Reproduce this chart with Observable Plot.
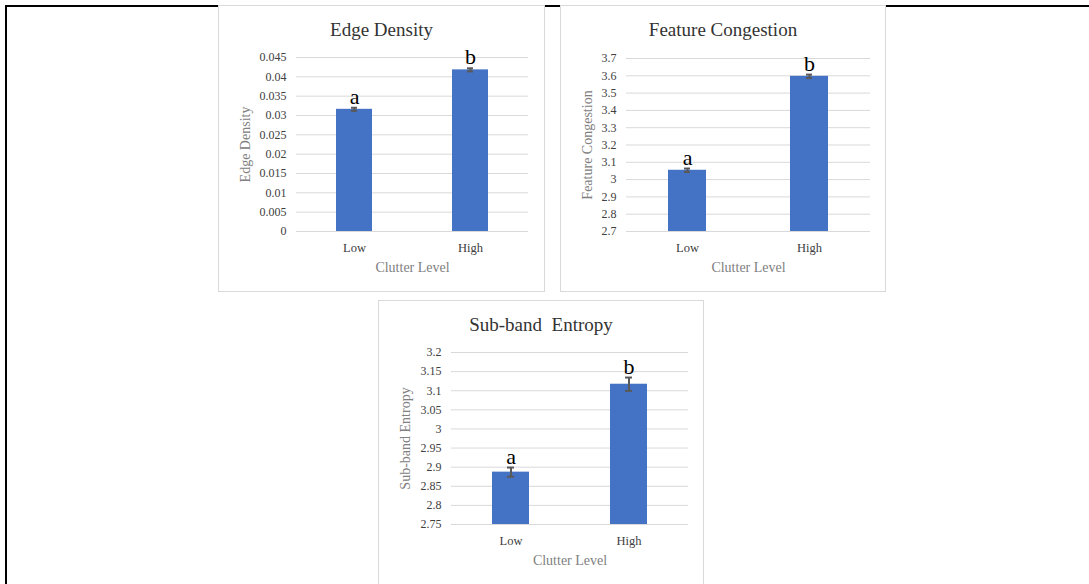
<!DOCTYPE html>
<html><head><meta charset="utf-8">
<script src="https://cdn.jsdelivr.net/npm/d3@7"></script>
<script src="https://cdn.jsdelivr.net/npm/@observablehq/plot@0.6"></script>
<style>
body{margin:0;background:#fff;}
#root{position:relative;width:1089px;height:584px;overflow:hidden;font-family:"Liberation Serif","Times New Roman",serif;}
#frame{position:absolute;left:5px;top:5px;width:1100px;height:600px;border-top:2px solid #000;border-left:2px solid #000;}
.panel{position:absolute;box-sizing:border-box;border:1px solid #d9d9d9;background:#fff;height:287px;}
.title{position:absolute;left:0;right:0;top:14px;line-height:19px;text-align:center;font-size:19px;color:#333;white-space:pre;}
.panel svg{position:absolute;left:0;top:0;overflow:visible;font-family:"Liberation Serif","Times New Roman",serif;}
.panel svg text{font-family:"Liberation Serif","Times New Roman",serif;}
g[aria-label$="axis label"], g[aria-label$="axis label"] text{fill:#808080;font-size:14px;}
</style></head><body>
<div id="root"><div id="frame"></div></div>
<script>
const categories = ["Low", "High"];
const letters = ["a", "b"];

const edgeDensity = [0.0316, 0.0418];
const edgeDensityErr = [0.0004, 0.0004];
const edgeTicks = [0, 0.005, 0.01, 0.015, 0.02, 0.025, 0.03, 0.035, 0.04, 0.045];
const edgeTickLabels = ["0", "0.005", "0.01", "0.015", "0.02", "0.025", "0.03", "0.035", "0.04", "0.045"];

const featureCongestion = [3.054, 3.597];
const featureCongestionErr = [0.01, 0.01];
const featureTicks = [2.7, 2.8, 2.9, 3, 3.1, 3.2, 3.3, 3.4, 3.5, 3.6, 3.7];
const featureTickLabels = ["2.7", "2.8", "2.9", "3", "3.1", "3.2", "3.3", "3.4", "3.5", "3.6", "3.7"];

const subbandEntropy = [2.887, 3.117];
const subbandEntropyErr = [0.012, 0.0175];
const subbandTicks = [2.75, 2.8, 2.85, 2.9, 2.95, 3, 3.05, 3.1, 3.15, 3.2];
const subbandTickLabels = ["2.75", "2.8", "2.85", "2.9", "2.95", "3", "3.05", "3.1", "3.15", "3.2"];

const FONT = '"Liberation Serif", "Times New Roman", serif';

function makePanel(cfg) {
  const root = document.getElementById("root");
  const div = document.createElement("div");
  div.className = "panel";
  div.style.left = cfg.left + "px";
  div.style.top = cfg.top + "px";
  div.style.width = cfg.width + "px";
  root.appendChild(div);

  const data = categories.map((c, i) => ({cat: c, v: cfg.values[i], e: cfg.errs[i], letter: letters[i]}));
  const fmt = d => cfg.tickLabels[cfg.ticks.indexOf(d)];
  const y0 = cfg.ticks[0];
  const y1 = cfg.ticks[cfg.ticks.length - 1];

  const svg = Plot.plot({
    width: cfg.width - 2,
    height: 285,
    marginLeft: cfg.mL, marginRight: cfg.mR, marginTop: cfg.mT, marginBottom: cfg.mB,
    style: {fontFamily: FONT, background: "transparent", overflow: "visible"},
    x: {domain: categories, paddingInner: 0.69, paddingOuter: 0.345},
    y: {domain: [y0, y1]},
    marks: [
      Plot.ruleY(cfg.ticks, {stroke: "#d9d9d9", strokeWidth: 1}),
      Plot.barY(data, {x: "cat", y1: y0, y2: "v", fill: "#4472C4"}),
      Plot.ruleX(data, {x: "cat", y1: d => d.v - d.e, y2: d => d.v + d.e, stroke: "#595959", strokeWidth: 2}),
      Plot.tickY(data, {x: "cat", y: d => d.v + d.e, stroke: "#595959", strokeWidth: 2, insetLeft: cfg.cap, insetRight: cfg.cap}),
      Plot.tickY(data, {x: "cat", y: d => d.v - d.e, stroke: "#595959", strokeWidth: 2, insetLeft: cfg.cap, insetRight: cfg.cap}),
      Plot.text(data, {x: "cat", y: d => d.v + d.e, text: "letter", lineAnchor: "bottom", dy: -4, fontSize: 22, fill: "#000", fontFamily: FONT}),
      Plot.axisY({ticks: cfg.ticks, tickFormat: fmt, tickSize: 0, tickPadding: 10, fontSize: 12, color: "#404040", fontFamily: FONT, fontVariant: "normal",
        label: cfg.yLabel, labelAnchor: "center", labelOffset: cfg.mL - 21, labelArrow: "none"}),
      Plot.axisX({tickSize: 0, tickPadding: 12, fontSize: 12.5, color: "#404040", fontFamily: FONT,
        label: "Clutter Level", labelAnchor: "center", labelOffset: 40, labelArrow: "none"})
    ]
  });
  div.appendChild(svg);

  const t = document.createElement("div");
  t.className = "title";
  t.textContent = cfg.title;
  div.appendChild(t);
}

makePanel({left: 218, top: 5, width: 327, title: "Edge Density", values: edgeDensity, errs: edgeDensityErr,
  ticks: edgeTicks, tickLabels: edgeTickLabels, yLabel: "Edge Density", mL: 77, mR: 16, mT: 51, mB: 60, cap: 15});
makePanel({left: 560, top: 5, width: 326, title: "Feature Congestion", values: featureCongestion, errs: featureCongestionErr,
  ticks: featureTicks, tickLabels: featureTickLabels, yLabel: "Feature Congestion", mL: 65, mR: 15, mT: 52, mB: 60, cap: 16});
makePanel({left: 378, top: 300, width: 326, title: "Sub-band  Entropy", values: subbandEntropy, errs: subbandEntropyErr,
  ticks: subbandTicks, tickLabels: subbandTickLabels, yLabel: "Sub-band Entropy", mL: 72, mR: 15, mT: 51, mB: 62, cap: 15});
</script>
</body></html>
